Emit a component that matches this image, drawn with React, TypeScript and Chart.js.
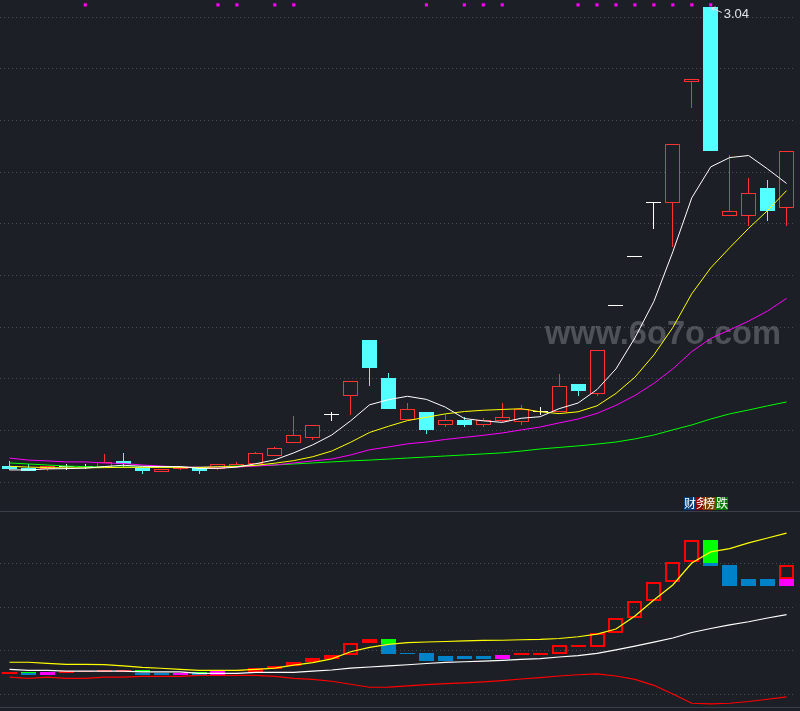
import { useEffect, useRef } from 'react';
import { Chart, registerables } from 'chart.js';
Chart.register(...registerables);

// ---------- data ----------
const categories = ['1','2','3','4','5','6','7','8','9','10','11','12','13','14','15','16','17','18','19','20','21','22','23','24','25','26','27','28','29','30','31','32','33','34','35','36','37','38','39','40','41','42'];

const opens = [1.263,1.256,1.252,1.259,1.259,1.259,1.283,1.256,1.240,1.252,1.256,1.252,1.259,1.271,1.302,1.352,1.372,1.461,1.534,1.751,1.604,1.441,1.472,1.422,1.441,1.422,1.437,1.434,1.472,1.472,1.581,1.542,1.883,2.072,2.281,2.281,2.750,3.040,2.231,2.231,2.339,2.262];
const highs = [1.283,1.271,1.263,1.271,1.271,1.310,1.314,1.256,1.252,1.259,1.256,1.271,1.279,1.317,1.337,1.457,1.422,1.472,1.592,1.751,1.623,1.507,1.472,1.465,1.453,1.449,1.507,1.499,1.492,1.619,1.581,1.712,1.883,2.072,2.281,2.510,2.761,3.040,2.467,2.378,2.370,2.483];
const lows = [1.248,1.244,1.244,1.248,1.252,1.259,1.256,1.232,1.240,1.248,1.232,1.248,1.259,1.271,1.302,1.352,1.364,1.437,1.461,1.573,1.484,1.441,1.387,1.414,1.414,1.414,1.434,1.422,1.461,1.472,1.534,1.534,1.883,2.072,2.181,2.111,2.649,2.483,2.231,2.192,2.212,2.192];
const closes = [1.252,1.244,1.263,1.259,1.259,1.279,1.271,1.244,1.252,1.259,1.244,1.271,1.271,1.314,1.333,1.383,1.422,1.461,1.592,1.643,1.484,1.484,1.403,1.441,1.422,1.441,1.453,1.484,1.472,1.573,1.554,1.712,1.883,2.072,2.281,2.510,2.761,2.483,2.250,2.320,2.250,2.483];

const ma5 = [1.248,1.248,1.252,1.253,1.255,1.261,1.266,1.262,1.261,1.261,1.254,1.254,1.259,1.272,1.287,1.314,1.345,1.383,1.438,1.500,1.520,1.533,1.521,1.491,1.447,1.438,1.432,1.448,1.454,1.485,1.507,1.559,1.639,1.759,1.900,2.092,2.301,2.421,2.457,2.465,2.413,2.357];
const ma10 = [1.262,1.259,1.257,1.256,1.256,1.257,1.258,1.258,1.258,1.258,1.257,1.260,1.261,1.266,1.274,1.284,1.299,1.321,1.355,1.393,1.417,1.439,1.452,1.465,1.474,1.479,1.482,1.485,1.473,1.466,1.473,1.496,1.544,1.607,1.693,1.799,1.930,2.030,2.108,2.183,2.252,2.329];
const ma20 = [1.294,1.286,1.283,1.279,1.279,1.275,1.273,1.267,1.263,1.259,1.259,1.259,1.259,1.263,1.267,1.275,1.283,1.290,1.306,1.326,1.337,1.349,1.356,1.366,1.374,1.382,1.391,1.403,1.414,1.430,1.445,1.467,1.498,1.536,1.583,1.639,1.706,1.757,1.790,1.824,1.863,1.912];
const ma60 = [1.275,1.271,1.267,1.263,1.261,1.259,1.259,1.259,1.259,1.259,1.259,1.261,1.263,1.265,1.267,1.271,1.275,1.279,1.283,1.286,1.290,1.294,1.298,1.302,1.306,1.310,1.314,1.321,1.329,1.335,1.341,1.348,1.356,1.368,1.383,1.403,1.422,1.445,1.465,1.480,1.496,1.511];

const signalDays = [4, 11, 12, 14, 15, 22, 24, 25, 26, 30, 31, 32, 33, 34, 35, 36, 37];
const SIGNAL_LEVEL = 3.048;

const priceGrid = [1.2, 1.4, 1.6, 1.8, 2.0, 2.2, 2.4, 2.6, 2.8, 3.0];
const PRICE_MIN = 1.089;
const PRICE_MAX = 3.067;

// lower indicator
const oscYellow = [18.6,18.6,18.0,17.4,17.4,17.3,16.5,15.7,15.2,14.6,14.0,14.0,14.0,14.6,15.3,17.0,18.35,20.5,24.6,27.1,28.8,29.8,30.1,30.4,30.7,31.0,31.1,31.4,31.6,32.1,33.1,34.6,37.5,44.9,54.0,62.5,75.0,81.3,83.2,86.4,89.2,92.0];
const oscWhite = [14.6,14.0,14.0,13.6,13.6,13.6,13.6,13.1,13.1,13.1,12.3,12.3,12.3,12.9,12.9,12.9,13.6,14.2,15.3,15.9,16.5,17.2,17.9,18.5,18.9,19.3,19.7,20.2,20.7,21.6,22.4,23.6,25.6,27.8,30.0,32.4,35.5,37.8,39.8,41.6,43.75,45.7];
const oscRed = [10.1,9.5,10.1,9.5,9.5,10.1,10.1,10.6,10.6,10.6,11.2,11.2,11.2,11.2,10.6,9.5,8.9,7.8,6.1,4.4,4.5,5.2,5.9,6.5,6.9,7.5,8.2,9.1,9.9,10.8,11.5,12.0,10.8,8.9,5.5,0.6,-4.7,-5.1,-4.7,-3.7,-2.4,-1.1];

// [index, low, high]
const redBoxes: [number, number, number][] = [[3,12.7,13.6],[4,12.8,13.5],[5,12.9,14.2],[6,12.9,14.2],[12,13.5,14.2],[13,13.2,15.2],[14,14.8,16.5],[15,16.3,18.6],[16,18.6,20.9],[17,20.6,22.6],[18,22.6,29.4],[19,29.4,31.6],[27,22.6,23.9],[29,23.1,28.4],[30,27.1,28.4],[31,27.1,35.1],[32,35.1,43.6],[33,43.6,53.2],[34,53.2,64.0],[35,64.0,75.4],[36,75.4,87.9],[41,65.9,73.7]];
const redFills: [number, number, number][] = [[0,12.1,13.1],[28,22.9,23.9]];
const greenBars: [number, number, number][] = [[1,12.3,13.1],[7,12.9,14.2],[10,12.5,13.1],[20,28.8,31.8],[37,74.8,87.9]];
const blueBars: [number, number, number][] = [[1,11.4,12.3],[7,11.4,12.7],[8,11.4,12.7],[10,11.4,12.3],[20,23.5,28.8],[21,23.4,23.9],[22,19.5,23.9],[23,19.5,22.2],[24,20.6,22.2],[25,20.6,22.2],[37,73.5,74.8],[38,62.1,73.9],[39,62.1,65.9],[40,62.1,65.9]];
const magentaBars: [number, number, number][] = [[2,11.4,12.9],[9,11.4,12.7],[11,11.4,14.2],[26,20.6,22.7],[41,62.1,65.9]];
const oscGrid = [0, 25, 50, 75];
const OSC_MIN = -6.82;
const OSC_MAX = 103.98;

// ---------- styles ----------
const BG = '#1c1f26';
const GRID = '#474b54';
const RED = '#ff3232';
const CYAN = '#54ffff';
const WHITE = '#ffffff';

const candleColor = (i: number) => closes[i] > opens[i] ? RED : closes[i] < opens[i] ? CYAN : WHITE;

const toBars = (rows: [number, number, number][]) => rows.map(([i, lo, hi]) => ({ x: categories[i], y: [lo, hi] }));

// snap bar elements (positioned by the scales) to whole device pixels for crisp edges
const pixelSnap = {
  id: 'pixelSnap',
  beforeDatasetsDraw(chart: any) {
    chart.getSortedVisibleDatasetMetas().forEach((meta: any) => {
      if (meta.type !== 'bar') return;
      meta.data.forEach((el: any) => {
        if (el.x == null || isNaN(el.x)) return;
        el.x = Math.floor(el.x) + 0.5;
        el.y = Math.round(el.y);
        el.base = Math.round(el.base);
      });
    });
  },
};

const topDecor = {
  id: 'topDecor',
  beforeDatasetsDraw(chart: any) {
    const ctx = chart.ctx;
    ctx.save();
    const text = 'www.6o7o.com';
    ctx.font = 'bold 32px "Liberation Sans", Arial, sans-serif';
    const w = ctx.measureText(text).width;
    const size = 32 * 236 / w;
    ctx.font = `bold ${size.toFixed(1)}px "Liberation Sans", Arial, sans-serif`;
    ctx.fillStyle = 'rgba(120,123,130,0.55)';
    ctx.textBaseline = 'alphabetic';
    ctx.fillText(text, 545, 344);
    ctx.restore();
  },
  afterDatasetsDraw(chart: any) {
    const ctx = chart.ctx;
    const xs = chart.scales.x, ys = chart.scales.y;
    let peak = 0;
    highs.forEach((h, i) => { if (h > highs[peak]) peak = i; });
    const px = xs.getPixelForValue(peak);
    const py = ys.getPixelForValue(highs[peak]);
    ctx.save();
    ctx.strokeStyle = '#e0e4ea';
    ctx.lineWidth = 1;
    ctx.beginPath();
    ctx.moveTo(px + 11, py + 5.5);
    ctx.lineTo(px + 1, py + 1);
    ctx.moveTo(px + 1, py + 1);
    ctx.lineTo(px + 5, py + 0);
    ctx.moveTo(px + 1, py + 1);
    ctx.lineTo(px + 3, py + 4);
    ctx.stroke();
    ctx.fillStyle = '#e0e4ea';
    ctx.font = '13px "Liberation Sans", Arial, sans-serif';
    ctx.textBaseline = 'middle';
    ctx.fillText(highs[peak].toFixed(2), px + 13, py + 7);

    // indicator name tags
    const tags = [
      { ch: '财', bg: '#003c78', w: 12 },
      { ch: '务', bg: '#8c0000', w: 7 },
      { ch: '榜', bg: '#7a4000', w: 13 },
      { ch: '跌', bg: '#007800', w: 12 },
    ];
    let tx = 684;
    const ty = 497;
    ctx.font = '12px "Noto Sans CJK SC", sans-serif';
    ctx.textBaseline = 'middle';
    tags.forEach(t => {
      ctx.fillStyle = t.bg;
      ctx.fillRect(tx, ty, t.w, 13);
      ctx.save();
      ctx.beginPath();
      ctx.rect(tx, ty, t.w, 13);
      ctx.clip();
      ctx.fillStyle = '#ffffff';
      ctx.fillText(t.ch, tx, ty + 6.5);
      ctx.restore();
      tx += t.w;
    });
    ctx.restore();
  },
};

const bottomDecor = {
  id: 'bottomDecor',
  afterDraw(chart: any) {
    const ctx = chart.ctx;
    ctx.save();
    ctx.fillStyle = '#3a3e47';
    ctx.fillRect(0, 0, chart.width, 1);
    ctx.fillRect(0, 196, chart.width, 1);
    ctx.restore();
  },
};

export default function App() {
  const topRef = useRef<HTMLCanvasElement>(null);
  const botRef = useRef<HTMLCanvasElement>(null);

  useEffect(() => {
    document.body.style.margin = '0';
    document.body.style.background = BG;

    const colors = categories.map((_, i) => candleColor(i));
    const bodyFill = categories.map((_, i) => closes[i] > opens[i] ? BG : candleColor(i));

    const top = new Chart(topRef.current!, {
      type: 'bar',
      data: {
        labels: categories,
        datasets: [
          { type: 'line', data: ma5, borderColor: '#ffffff', borderWidth: 1, pointRadius: 0, pointHoverRadius: 0, tension: 0, order: 0 } as any,
          { type: 'line', data: ma10, borderColor: '#ffff00', borderWidth: 1, pointRadius: 0, pointHoverRadius: 0, tension: 0, order: 1 } as any,
          { type: 'line', data: ma20, borderColor: '#ff00ff', borderWidth: 1, pointRadius: 0, pointHoverRadius: 0, tension: 0, order: 2 } as any,
          { type: 'line', data: ma60, borderColor: '#00ff00', borderWidth: 1, pointRadius: 0, pointHoverRadius: 0, tension: 0, order: 3 } as any,
          { type: 'line', data: categories.map((_, i) => signalDays.includes(i) ? SIGNAL_LEVEL : null), showLine: false, pointStyle: 'rect', pointRadius: 2.2, pointHoverRadius: 0, pointBorderWidth: 0, pointBackgroundColor: '#ff00ff', order: 0 } as any,
          { type: 'bar', data: opens.map((o, i) => [o, closes[i]]), backgroundColor: bodyFill, borderColor: colors, borderWidth: 1, borderSkipped: false, barThickness: 15, minBarLength: 1, grouped: false, inflateAmount: 0, order: 10 } as any,
          { type: 'bar', data: lows.map((l, i) => [l, highs[i]]), backgroundColor: colors, borderWidth: 0, barThickness: 1, grouped: false, inflateAmount: 0, order: 11 } as any,
        ],
      },
      options: {
        responsive: false,
        animation: false,
        events: [],
        layout: { autoPadding: false, padding: { left: 0, right: 4, top: 0, bottom: 0 } },
        plugins: { legend: { display: false }, tooltip: { enabled: false } },
        scales: {
          x: { type: 'category', display: false, offset: true },
          y: {
            min: PRICE_MIN, max: PRICE_MAX,
            ticks: { display: false },
            border: { display: false, dash: [1, 3] },
            grid: { color: GRID, drawTicks: false, lineWidth: 1 },
            afterBuildTicks: (axis: any) => { axis.ticks = priceGrid.map(v => ({ value: v })); },
          },
        },
      } as any,
      plugins: [pixelSnap, topDecor],
    });

    const bot = new Chart(botRef.current!, {
      type: 'bar',
      data: {
        labels: categories,
        datasets: [
          { type: 'line', data: oscWhite, borderColor: '#ffffff', borderWidth: 1.2, pointRadius: 0, pointHoverRadius: 0, tension: 0, order: 1 } as any,
          { type: 'line', data: oscYellow, borderColor: '#ffff00', borderWidth: 1.2, pointRadius: 0, pointHoverRadius: 0, tension: 0, order: 0 } as any,
          { type: 'line', data: oscRed, borderColor: '#ff0000', borderWidth: 1.2, pointRadius: 0, pointHoverRadius: 0, tension: 0, order: 2 } as any,
          { type: 'bar', data: toBars(redBoxes), backgroundColor: 'rgba(0,0,0,0)', borderColor: '#ff0000', borderWidth: 2, borderSkipped: false, barThickness: 15, minBarLength: 1, grouped: false, inflateAmount: 0, order: 5 } as any,
          { type: 'bar', data: toBars(redFills), backgroundColor: '#ff0000', borderWidth: 0, barThickness: 15, minBarLength: 1, grouped: false, inflateAmount: 0, order: 6 } as any,
          { type: 'bar', data: toBars(greenBars), backgroundColor: '#00ff00', borderWidth: 0, barThickness: 15, minBarLength: 1, grouped: false, inflateAmount: 0, order: 6 } as any,
          { type: 'bar', data: toBars(blueBars), backgroundColor: '#0082c8', borderWidth: 0, barThickness: 15, minBarLength: 1, grouped: false, inflateAmount: 0, order: 6 } as any,
          { type: 'bar', data: toBars(magentaBars), backgroundColor: '#ff00ff', borderWidth: 0, barThickness: 15, minBarLength: 1, grouped: false, inflateAmount: 0, order: 6 } as any,
        ],
      },
      options: {
        responsive: false,
        animation: false,
        events: [],
        layout: { autoPadding: false, padding: { left: 0, right: 4, top: 1, bottom: 4 } },
        plugins: { legend: { display: false }, tooltip: { enabled: false } },
        scales: {
          x: { type: 'category', display: false, offset: true },
          y: {
            min: OSC_MIN, max: OSC_MAX,
            ticks: { display: false },
            border: { display: false, dash: [1, 3] },
            grid: { color: GRID, drawTicks: false, lineWidth: 1 },
            afterBuildTicks: (axis: any) => { axis.ticks = oscGrid.map(v => ({ value: v })); },
          },
        },
      } as any,
      plugins: [pixelSnap, bottomDecor],
    });

    return () => { top.destroy(); bot.destroy(); };
  }, []);

  return (
    <div style={{ width: 800, height: 711, background: BG, overflow: 'hidden' }}>
      <canvas ref={topRef} width={800} height={511} style={{ display: 'block' }} />
      <canvas ref={botRef} width={800} height={200} style={{ display: 'block' }} />
    </div>
  );
}
